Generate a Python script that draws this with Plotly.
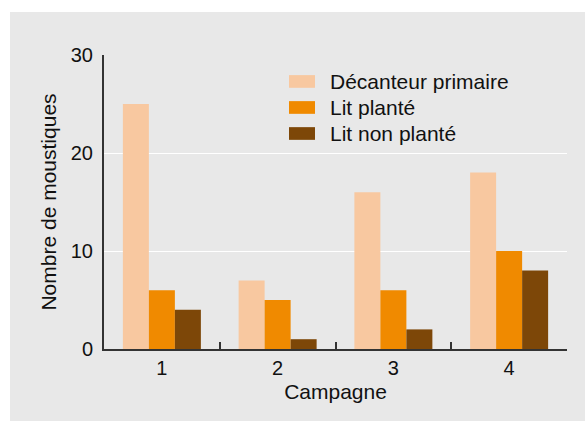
import plotly.graph_objects as go

# Data
campagnes = ["1", "2", "3", "4"]
series_names = ["Décanteur primaire", "Lit planté", "Lit non planté"]
decanteur = [25, 7, 16, 18]
lit_plante = [6, 5, 6, 10]
lit_non_plante = [4, 1, 2, 8]
series_values = [decanteur, lit_plante, lit_non_plante]
colors = ["#F8C8A0", "#F08A00", "#7D4708"]

y_ticks = [0, 10, 20, 30]

FONT = "Liberation Sans, Arial, sans-serif"
PANEL = "#E8E8E8"
AXIS = "#333333"

fig = go.Figure()
for name, vals, col in zip(series_names, series_values, colors):
    fig.add_trace(go.Bar(x=campagnes, y=vals, name=name, marker_color=col,
                         marker_line_width=0, showlegend=False))

# Outer grey panel behind the chart
shapes = [dict(type="rect", xref="paper", yref="paper", x0=-0.203, x1=1.06,
               y0=-0.27, y1=1.146, fillcolor=PANEL, line_width=0, layer="below")]

# Legend drawn as swatches + labels inside the plot area
annotations = []
row_y = [0.910, 0.8215, 0.733]
for name, col, yc in zip(series_names, colors, row_y):
    shapes.append(dict(type="rect", xref="paper", yref="paper",
                       x0=0.3996, x1=0.4557, y0=yc - 0.0216, y1=yc + 0.0216,
                       fillcolor=col, line_width=0))
    annotations.append(dict(xref="paper", yref="paper", x=0.484, y=yc,
                            text=name, showarrow=False, xanchor="left",
                            yanchor="middle",
                            font=dict(family=FONT, size=21, color="#111111")))

fig.update_layout(
    width=585, height=421,
    margin=dict(l=104, r=18, t=55, b=72),
    paper_bgcolor="white",
    plot_bgcolor=PANEL,
    barmode="group",
    bargap=0.326,
    bargroupgap=0,
    font=dict(family=FONT, size=20, color="#111111"),
    shapes=shapes,
    annotations=annotations,
    xaxis=dict(
        type="category",
        title=dict(text="Campagne", standoff=6, font=dict(size=21)),
        showline=True, linecolor=AXIS, linewidth=2,
        ticks="inside", tickson="boundaries", ticklen=7, tickcolor=AXIS,
        tickwidth=1.5, showgrid=False,
        tickfont=dict(size=20),
    ),
    yaxis=dict(
        title=dict(text="Nombre de moustiques", standoff=8, font=dict(size=21)),
        range=[0, 30], tickvals=y_ticks,
        showline=True, linecolor=AXIS, linewidth=2,
        ticks="", showgrid=True, gridcolor="white", gridwidth=1,
        zeroline=False, ticklabelstandoff=5,
        tickfont=dict(size=20),
    ),
)

fig.write_html("out.html")
